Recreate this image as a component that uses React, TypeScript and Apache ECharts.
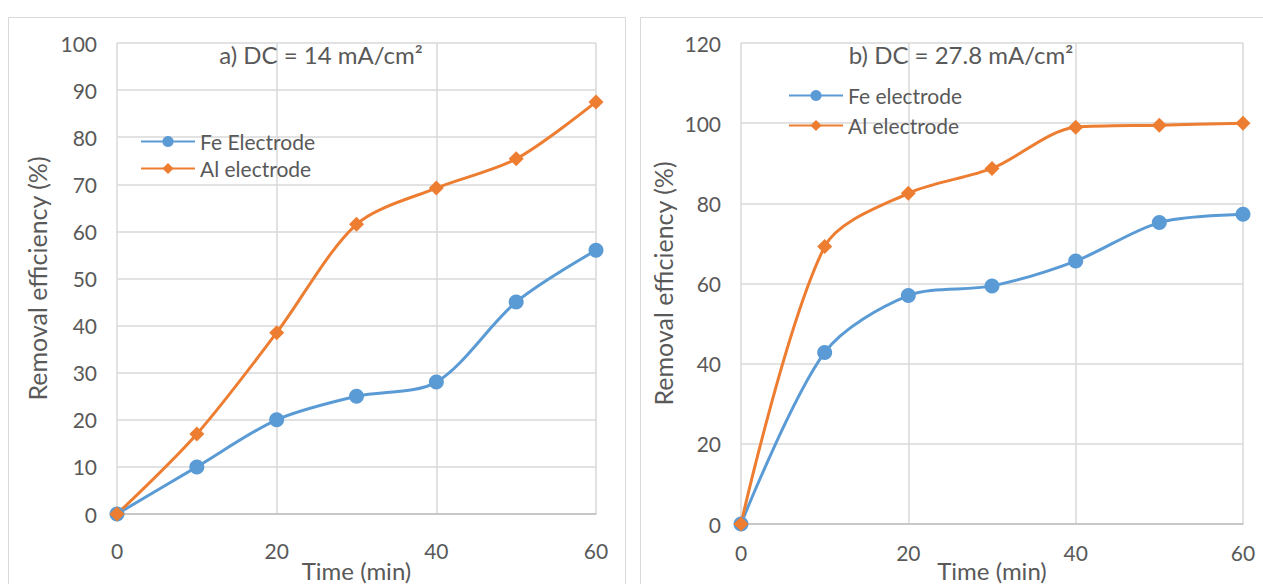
import React, { useEffect, useRef } from "react";
import * as echarts from "echarts";

const timeMin = [0, 10, 20, 30, 40, 50, 60];
const feA = [0, 10, 20, 25, 28, 45, 56];
const alA = [0, 17, 38.5, 61.5, 69.2, 75.4, 87.5];
const feB = [0, 42.8, 57, 59.4, 65.6, 75.2, 77.3];
const alB = [0, 69.2, 82.5, 88.7, 99, 99.5, 100];

const titleA = "a) DC = 14 mA/cm²";
const titleB = "b) DC = 27.8 mA/cm²";
const feNameA = "Fe Electrode";
const feNameB = "Fe electrode";
const alNameA = "Al electrode ";
const alNameB = "Al electrode";

const BLUE = "#5b9bd5";
const ORANGE = "#ed7d31";
const TXT = "#595959";
const GRID = "#d9d9d9";
const FONT = "Lato, 'Open Sans', sans-serif";

export default function App() {
  const ref = useRef<HTMLDivElement>(null);
  useEffect(() => {
    if (!ref.current) return;
    const chart = echarts.init(ref.current, undefined, { renderer: "svg" });
    const pairs = (xs: number[], ys: number[]) => xs.map((x, i) => [x, ys[i]]);
    const xAxisCommon = (gi: number, margin: number, nameGap: number) => ({
      type: "value",
      gridIndex: gi,
      min: 0,
      max: 60,
      interval: 20,
      name: "Time (min)",
      nameLocation: "middle",
      nameGap,
      nameMoveOverlap: false,
      nameTextStyle: { color: TXT, fontSize: 24, fontFamily: FONT },
      axisLine: { show: true, lineStyle: { color: "#bfbfbf", width: 1.5 } },
      axisTick: { show: false },
      axisLabel: { color: TXT, fontSize: 21, fontFamily: FONT, margin },
      splitLine: { show: true, lineStyle: { color: GRID, width: 1.5 } },
    });
    const yAxisCommon = (gi: number, max: number, interval: number, nameGap: number) => ({
      type: "value",
      gridIndex: gi,
      min: 0,
      max,
      interval,
      name: "Removal efficiency (%)",
      nameLocation: "middle",
      nameGap,
      nameMoveOverlap: false,
      nameTextStyle: { color: TXT, fontSize: 25, fontFamily: FONT },
      axisLine: { show: false },
      axisTick: { show: false },
      axisLabel: { color: TXT, fontSize: 21, fontFamily: FONT, margin: 20 },
      splitLine: { show: true, lineStyle: { color: GRID, width: 1.5 } },
    });
    const feSeries = (name: string, gi: number, data: number[]) => ({
      name,
      type: "line",
      xAxisIndex: gi,
      yAxisIndex: gi,
      data: pairs(timeMin, data),
      smooth: 0.3,
      symbol: "circle",
      symbolSize: 15,
      lineStyle: { color: BLUE, width: 3 },
      itemStyle: { color: BLUE },
    });
    const alSeries = (name: string, gi: number, data: number[]) => ({
      name,
      type: "line",
      xAxisIndex: gi,
      yAxisIndex: gi,
      data: pairs(timeMin, data),
      smooth: 0.3,
      symbol: "diamond",
      symbolSize: 15,
      lineStyle: { color: ORANGE, width: 3 },
      itemStyle: { color: ORANGE },
    });
    const legendCommon = {
      orient: "vertical",
      padding: 0,
      itemWidth: 54,
      itemHeight: 14,
      textStyle: { color: TXT, fontSize: 21, fontFamily: FONT },
    };
    chart.setOption({
      animation: false,
      backgroundColor: "#ffffff",
      textStyle: { fontFamily: FONT },
      grid: [
        { left: 117, top: 43, width: 479, height: 471, outerBoundsMode: "none" },
        { left: 741, top: 43, width: 502, height: 481, outerBoundsMode: "none" },
      ],
      xAxis: [xAxisCommon(0, 26, 44), xAxisCommon(1, 18, 34)],
      yAxis: [yAxisCommon(0, 100, 10, 68), yAxisCommon(1, 120, 20, 66)],
      legend: [
        { ...legendCommon, data: [feNameA, alNameA], left: 140, top: 131, itemGap: 6 },
        { ...legendCommon, data: [feNameB, alNameB], left: 788, top: 85, itemGap: 9 },
      ],
      title: [
        {
          text: titleA,
          left: 316,
          top: 37,
          textAlign: "center",
          textStyle: { color: TXT, fontSize: 24, fontWeight: "normal", fontFamily: FONT },
        },
        {
          text: titleB,
          left: 956,
          top: 37,
          textAlign: "center",
          textStyle: { color: TXT, fontSize: 24, fontWeight: "normal", fontFamily: FONT },
        },
      ],
      graphic: [
        {
          type: "rect",
          shape: { x: 8.5, y: 17.5, width: 617, height: 600 },
          style: { fill: "none", stroke: "#d9d9d9", lineWidth: 1 },
          z: -1,
        },
        {
          type: "rect",
          shape: { x: 640.5, y: 17.5, width: 640, height: 600 },
          style: { fill: "none", stroke: "#d9d9d9", lineWidth: 1 },
          z: -1,
        },
      ],
      series: [
        feSeries(feNameA, 0, feA),
        alSeries(alNameA, 0, alA),
        feSeries(feNameB, 1, feB),
        alSeries(alNameB, 1, alB),
      ],
    });
    return () => chart.dispose();
  }, []);
  return (
    <div
      ref={ref}
      style={{ position: "fixed", left: 0, top: 0, width: 1263, height: 584, background: "#fff" }}
    />
  );
}
